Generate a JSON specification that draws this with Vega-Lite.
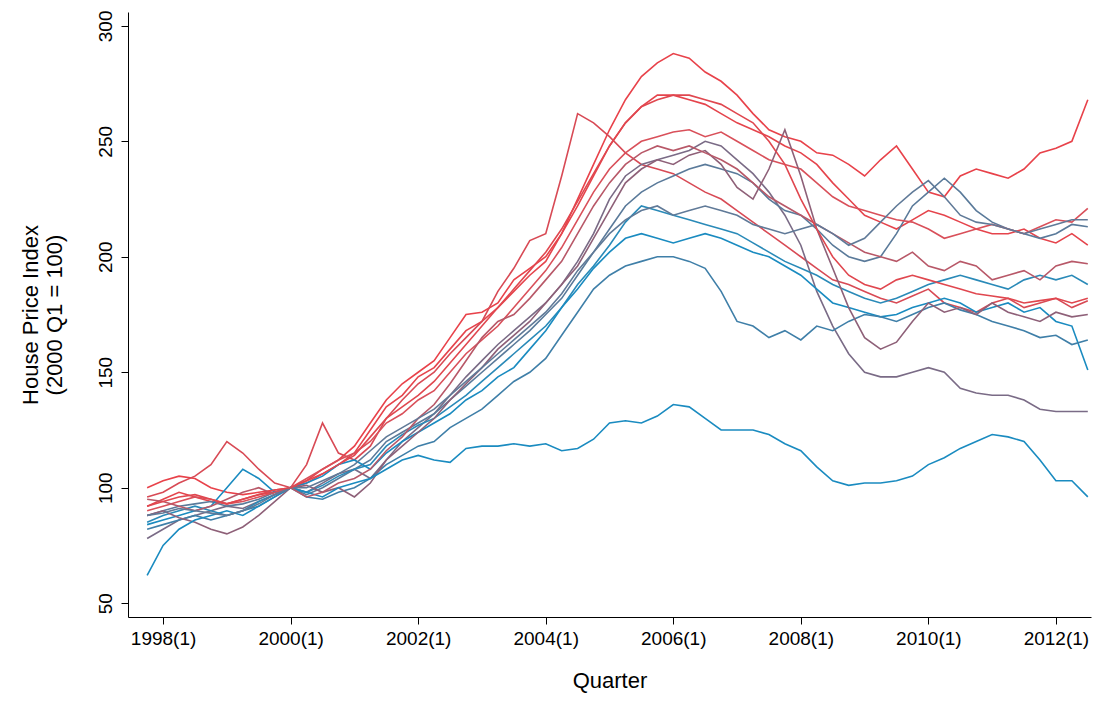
{
  "$schema": "https://vega.github.io/schema/vega-lite/v6.json",
  "width": 963,
  "height": 605,
  "padding": {"left": 18, "top": 10, "right": 10, "bottom": 5},
  "background": "white",
  "view": {"stroke": null},
  "config": {"font": "Liberation Sans"},
  "data": {"values": [
    {"t":1997.75,"a":100,"b":92,"c":96,"d":78,"e":88,"f":85,"g":84,"h":82,"i":90,"j":88,"k":62,"l":95,"m":88,"n":92},
    {"t":1998.0,"a":103,"b":95,"c":98,"d":82,"e":90,"f":88,"g":86,"h":84,"i":92,"j":90,"k":75,"l":94,"m":89,"n":94},
    {"t":1998.25,"a":105,"b":98,"c":102,"d":86,"e":92,"f":90,"g":88,"h":86,"i":94,"j":87,"k":82,"l":92,"m":91,"n":96},
    {"t":1998.5,"a":104,"b":96,"c":105,"d":88,"e":93,"f":92,"g":90,"h":88,"i":96,"j":85,"k":86,"l":90,"m":90,"n":97},
    {"t":1998.75,"a":100,"b":94,"c":110,"d":90,"e":94,"f":90,"g":92,"h":86,"i":95,"j":82,"k":88,"l":92,"m":89,"n":95},
    {"t":1999.0,"a":98,"b":93,"c":120,"d":92,"e":92,"f":88,"g":100,"h":88,"i":93,"j":80,"k":90,"l":95,"m":88,"n":93},
    {"t":1999.25,"a":97,"b":95,"c":115,"d":91,"e":93,"f":90,"g":108,"h":90,"i":94,"j":83,"k":88,"l":98,"m":90,"n":95},
    {"t":1999.5,"a":98,"b":97,"c":108,"d":94,"e":95,"f":94,"g":104,"h":92,"i":96,"j":88,"k":92,"l":100,"m":93,"n":97},
    {"t":1999.75,"a":99,"b":98,"c":102,"d":97,"e":98,"f":97,"g":98,"h":96,"i":98,"j":94,"k":96,"l":97,"m":97,"n":99},
    {"t":2000.0,"a":100,"b":100,"c":100,"d":100,"e":100,"f":100,"g":100,"h":100,"i":100,"j":100,"k":100,"l":100,"m":100,"n":100},
    {"t":2000.25,"a":103,"b":102,"c":110,"d":98,"e":97,"f":98,"g":102,"h":96,"i":104,"j":101,"k":98,"l":96,"m":100,"n":103},
    {"t":2000.5,"a":108,"b":106,"c":128,"d":102,"e":100,"f":101,"g":105,"h":95,"i":108,"j":98,"k":96,"l":98,"m":103,"n":106},
    {"t":2000.75,"a":112,"b":110,"c":115,"d":106,"e":104,"f":105,"g":110,"h":98,"i":112,"j":100,"k":100,"l":102,"m":106,"n":110},
    {"t":2001.0,"a":118,"b":115,"c":112,"d":108,"e":108,"f":108,"g":112,"h":100,"i":115,"j":96,"k":102,"l":104,"m":110,"n":114},
    {"t":2001.25,"a":128,"b":125,"c":118,"d":104,"e":112,"f":110,"g":108,"h":104,"i":120,"j":102,"k":104,"l":108,"m":116,"n":122},
    {"t":2001.5,"a":138,"b":135,"c":130,"d":112,"e":120,"f":118,"g":115,"h":110,"i":128,"j":112,"k":108,"l":116,"m":122,"n":130},
    {"t":2001.75,"a":145,"b":140,"c":138,"d":120,"e":124,"f":123,"g":120,"h":114,"i":132,"j":118,"k":112,"l":122,"m":126,"n":135},
    {"t":2002.0,"a":150,"b":148,"c":145,"d":126,"e":128,"f":127,"g":124,"h":118,"i":138,"j":124,"k":114,"l":130,"m":130,"n":140},
    {"t":2002.25,"a":155,"b":152,"c":150,"d":132,"e":132,"f":130,"g":128,"h":120,"i":142,"j":130,"k":112,"l":136,"m":134,"n":146},
    {"t":2002.5,"a":165,"b":160,"c":158,"d":140,"e":138,"f":135,"g":132,"h":126,"i":150,"j":138,"k":111,"l":145,"m":140,"n":154},
    {"t":2002.75,"a":175,"b":168,"c":165,"d":148,"e":144,"f":140,"g":138,"h":130,"i":158,"j":145,"k":117,"l":155,"m":146,"n":162},
    {"t":2003.0,"a":176,"b":172,"c":172,"d":155,"e":150,"f":146,"g":142,"h":134,"i":164,"j":152,"k":118,"l":165,"m":152,"n":170},
    {"t":2003.25,"a":180,"b":178,"c":185,"d":162,"e":156,"f":152,"g":148,"h":140,"i":170,"j":160,"k":118,"l":172,"m":158,"n":178},
    {"t":2003.5,"a":190,"b":185,"c":195,"d":168,"e":162,"f":158,"g":152,"h":146,"i":178,"j":166,"k":119,"l":175,"m":164,"n":186},
    {"t":2003.75,"a":195,"b":192,"c":207,"d":174,"e":168,"f":164,"g":160,"h":150,"i":186,"j":172,"k":118,"l":182,"m":170,"n":194},
    {"t":2004.0,"a":200,"b":198,"c":210,"d":180,"e":175,"f":170,"g":168,"h":156,"i":194,"j":180,"k":119,"l":190,"m":176,"n":202},
    {"t":2004.25,"a":210,"b":210,"c":235,"d":188,"e":182,"f":178,"g":178,"h":166,"i":204,"j":188,"k":116,"l":198,"m":184,"n":212},
    {"t":2004.5,"a":225,"b":222,"c":262,"d":198,"e":192,"f":188,"g":186,"h":176,"i":216,"j":196,"k":117,"l":210,"m":194,"n":224},
    {"t":2004.75,"a":240,"b":235,"c":258,"d":210,"e":202,"f":196,"g":195,"h":186,"i":228,"j":208,"k":121,"l":222,"m":202,"n":236},
    {"t":2005.0,"a":255,"b":248,"c":252,"d":225,"e":212,"f":205,"g":202,"h":192,"i":238,"j":220,"k":128,"l":232,"m":210,"n":248},
    {"t":2005.25,"a":268,"b":258,"c":245,"d":235,"e":222,"f":215,"g":208,"h":196,"i":245,"j":232,"k":129,"l":240,"m":216,"n":258},
    {"t":2005.5,"a":278,"b":265,"c":240,"d":240,"e":228,"f":222,"g":210,"h":198,"i":250,"j":238,"k":128,"l":245,"m":220,"n":265},
    {"t":2005.75,"a":284,"b":270,"c":238,"d":242,"e":232,"f":220,"g":208,"h":200,"i":252,"j":242,"k":131,"l":248,"m":222,"n":268},
    {"t":2006.0,"a":288,"b":270,"c":236,"d":244,"e":235,"f":218,"g":206,"h":200,"i":254,"j":240,"k":136,"l":246,"m":218,"n":270},
    {"t":2006.25,"a":286,"b":268,"c":232,"d":246,"e":238,"f":216,"g":208,"h":198,"i":255,"j":244,"k":135,"l":248,"m":220,"n":270},
    {"t":2006.5,"a":280,"b":266,"c":228,"d":250,"e":240,"f":214,"g":210,"h":195,"i":252,"j":246,"k":130,"l":245,"m":222,"n":268},
    {"t":2006.75,"a":276,"b":262,"c":225,"d":248,"e":238,"f":212,"g":208,"h":185,"i":254,"j":240,"k":125,"l":242,"m":220,"n":266},
    {"t":2007.0,"a":270,"b":258,"c":220,"d":242,"e":236,"f":210,"g":205,"h":172,"i":250,"j":230,"k":125,"l":238,"m":218,"n":262},
    {"t":2007.25,"a":262,"b":255,"c":215,"d":236,"e":232,"f":206,"g":202,"h":170,"i":246,"j":225,"k":125,"l":232,"m":214,"n":258},
    {"t":2007.5,"a":255,"b":252,"c":210,"d":228,"e":225,"f":202,"g":200,"h":165,"i":242,"j":238,"k":123,"l":226,"m":212,"n":250},
    {"t":2007.75,"a":252,"b":248,"c":205,"d":218,"e":220,"f":198,"g":196,"h":168,"i":240,"j":255,"k":119,"l":222,"m":210,"n":240},
    {"t":2008.0,"a":250,"b":245,"c":200,"d":205,"e":218,"f":195,"g":192,"h":164,"i":238,"j":235,"k":116,"l":218,"m":212,"n":225},
    {"t":2008.25,"a":245,"b":240,"c":195,"d":185,"e":212,"f":192,"g":186,"h":170,"i":232,"j":212,"k":109,"l":214,"m":214,"n":212},
    {"t":2008.5,"a":244,"b":232,"c":190,"d":170,"e":205,"f":188,"g":180,"h":168,"i":226,"j":195,"k":103,"l":210,"m":210,"n":200},
    {"t":2008.75,"a":240,"b":225,"c":188,"d":158,"e":200,"f":185,"g":178,"h":172,"i":222,"j":178,"k":101,"l":206,"m":205,"n":192},
    {"t":2009.0,"a":235,"b":218,"c":185,"d":150,"e":198,"f":182,"g":176,"h":175,"i":220,"j":165,"k":102,"l":202,"m":208,"n":188},
    {"t":2009.25,"a":242,"b":215,"c":182,"d":148,"e":200,"f":180,"g":174,"h":174,"i":218,"j":160,"k":102,"l":200,"m":215,"n":186},
    {"t":2009.5,"a":248,"b":212,"c":180,"d":148,"e":210,"f":182,"g":175,"h":172,"i":216,"j":163,"k":103,"l":198,"m":222,"n":190},
    {"t":2009.75,"a":238,"b":216,"c":183,"d":150,"e":222,"f":185,"g":178,"h":175,"i":215,"j":172,"k":105,"l":202,"m":228,"n":192},
    {"t":2010.0,"a":228,"b":220,"c":186,"d":152,"e":228,"f":188,"g":180,"h":178,"i":212,"j":180,"k":110,"l":196,"m":233,"n":190},
    {"t":2010.25,"a":226,"b":218,"c":180,"d":150,"e":234,"f":190,"g":182,"h":180,"i":208,"j":176,"k":113,"l":194,"m":226,"n":188},
    {"t":2010.5,"a":235,"b":215,"c":178,"d":143,"e":228,"f":192,"g":180,"h":177,"i":210,"j":178,"k":117,"l":198,"m":218,"n":186},
    {"t":2010.75,"a":238,"b":212,"c":176,"d":141,"e":220,"f":190,"g":176,"h":175,"i":212,"j":175,"k":120,"l":196,"m":215,"n":184},
    {"t":2011.0,"a":236,"b":210,"c":180,"d":140,"e":215,"f":188,"g":178,"h":172,"i":214,"j":180,"k":123,"l":190,"m":214,"n":183},
    {"t":2011.25,"a":234,"b":210,"c":182,"d":140,"e":212,"f":186,"g":180,"h":170,"i":212,"j":176,"k":122,"l":192,"m":212,"n":182},
    {"t":2011.5,"a":238,"b":212,"c":178,"d":138,"e":210,"f":190,"g":176,"h":168,"i":210,"j":174,"k":120,"l":194,"m":210,"n":180},
    {"t":2011.75,"a":245,"b":208,"c":180,"d":134,"e":208,"f":192,"g":178,"h":165,"i":213,"j":172,"k":112,"l":190,"m":212,"n":181},
    {"t":2012.0,"a":247,"b":206,"c":182,"d":133,"e":210,"f":190,"g":172,"h":166,"i":216,"j":176,"k":103,"l":196,"m":214,"n":182},
    {"t":2012.25,"a":250,"b":210,"c":178,"d":133,"e":214,"f":192,"g":170,"h":162,"i":215,"j":174,"k":103,"l":198,"m":216,"n":180},
    {"t":2012.5,"a":268,"b":205,"c":181,"d":133,"e":213,"f":188,"g":151,"h":164,"i":221,"j":175,"k":96,"l":197,"m":216,"n":182}
  ]},
  "transform": [
    {"fold": ["a","b","c","d","e","f","g","h","i","j","k","l","m","n"], "as": ["series","hpi"]}
  ],
  "mark": {"type": "line", "strokeWidth": 1.6},
  "encoding": {
    "x": {
      "field": "t", "type": "quantitative",
      "scale": {"domain": [1997.45, 2012.55], "nice": false, "zero": false},
      "axis": {
        "title": "Quarter", "values": [1998,2000,2002,2004,2006,2008,2010,2012],
        "labelExpr": "datum.value + '(1)'", "grid": false, "domainColor": "black",
        "tickColor": "black", "labelColor": "black", "labelFontSize": 19,
        "titleFontSize": 22, "titleFontWeight": "normal", "titleColor": "black",
        "titlePadding": 22, "tickSize": 7, "labelPadding": 5
      }
    },
    "y": {
      "field": "hpi", "type": "quantitative",
      "scale": {"domain": [44, 306], "nice": false, "zero": false},
      "axis": {
        "title": ["House Price Index", "(2000 Q1 = 100)"],
        "values": [50,100,150,200,250,300], "grid": false, "domainColor": "black",
        "tickColor": "black", "labelColor": "black", "labelFontSize": 19, "labelAngle": -90,
        "labelAlign": "center", "labelBaseline": "bottom", "labelPadding": 6,
        "titleFontSize": 22, "titleFontWeight": "normal", "titleColor": "black",
        "titlePadding": 30, "tickSize": 7
      }
    },
    "color": {
      "field": "series", "type": "nominal", "legend": null,
      "scale": {
        "domain": ["a","b","c","d","e","f","g","h","i","j","k","l","m","n"],
        "range": ["#e8424a","#e5444c","#d84a55","#7a6b86","#5a7a9a","#2a8ab8","#1a8bc0","#3f7fa8","#d9505a","#8e6078","#1a8bc0","#b85868","#607a98","#e0474f"]
      }
    },
    "detail": {"field": "series"}
  }
}
